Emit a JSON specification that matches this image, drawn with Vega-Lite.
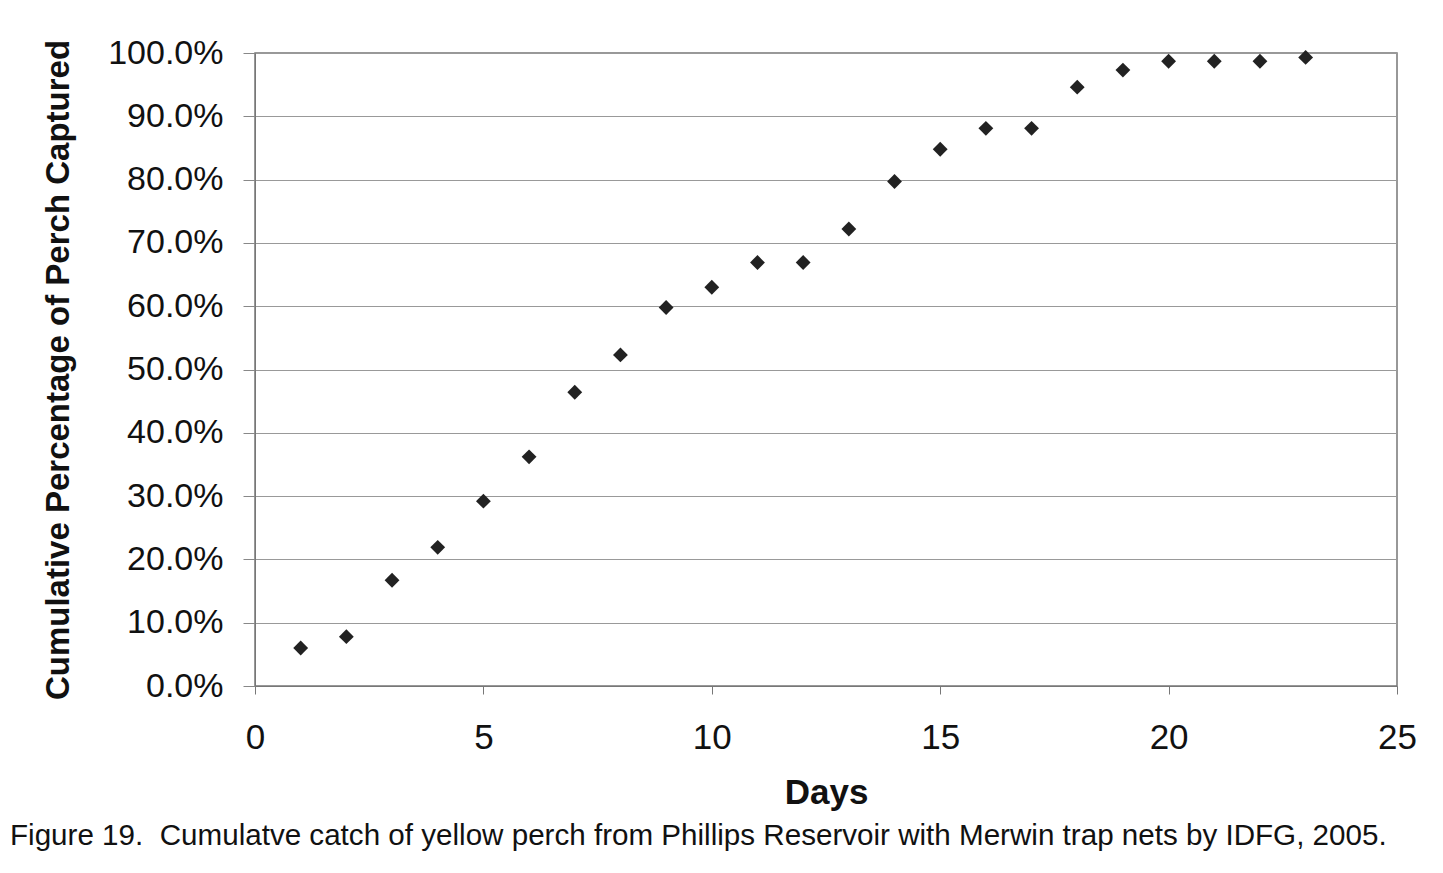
{
  "$schema": "https://vega.github.io/schema/vega-lite/v6.json",
  "width": 1142,
  "height": 633,
  "autosize": {"type": "none"},
  "padding": {"left": 255, "top": 53, "right": 46, "bottom": 187},
  "background": "white",
  "title": {
    "text": "Figure 19.\u00a0 Cumulatve catch of yellow perch from Phillips Reservoir with Merwin trap nets by IDFG, 2005.",
    "orient": "bottom",
    "anchor": "start",
    "frame": "group",
    "dx": -245,
    "offset": 12,
    "font": "Liberation Sans",
    "fontSize": 29.6,
    "fontWeight": "normal",
    "color": "#111"
  },
  "data": {
    "values": [
      {"day": 1, "pct": 0.060},
      {"day": 2, "pct": 0.078},
      {"day": 3, "pct": 0.167},
      {"day": 4, "pct": 0.219},
      {"day": 5, "pct": 0.292},
      {"day": 6, "pct": 0.362},
      {"day": 7, "pct": 0.464},
      {"day": 8, "pct": 0.523},
      {"day": 9, "pct": 0.598},
      {"day": 10, "pct": 0.630},
      {"day": 11, "pct": 0.669},
      {"day": 12, "pct": 0.669},
      {"day": 13, "pct": 0.722},
      {"day": 14, "pct": 0.797},
      {"day": 15, "pct": 0.848},
      {"day": 16, "pct": 0.881},
      {"day": 17, "pct": 0.881},
      {"day": 18, "pct": 0.946},
      {"day": 19, "pct": 0.973},
      {"day": 20, "pct": 0.987},
      {"day": 21, "pct": 0.987},
      {"day": 22, "pct": 0.987},
      {"day": 23, "pct": 0.993}
    ]
  },
  "mark": {"type": "point", "shape": "diamond", "filled": true, "color": "#222", "opacity": 1, "size": 220},
  "encoding": {
    "x": {
      "field": "day",
      "type": "quantitative",
      "title": "Days",
      "scale": {"domain": [0, 25], "nice": false, "zero": true},
      "axis": {
        "values": [0, 5, 10, 15, 20, 25],
        "grid": false,
        "labelFlush": false,
        "labelOverlap": false,
        "tickSize": 8,
        "tickColor": "#777",
        "domainColor": "#777",
        "labelPadding": 26,
        "labelFontSize": 35,
        "labelFont": "Liberation Sans",
        "labelColor": "#111",
        "titleFont": "Liberation Sans",
        "titleFontSize": 35,
        "titleFontWeight": "bold",
        "titleColor": "#111",
        "titlePadding": 20
      }
    },
    "y": {
      "field": "pct",
      "type": "quantitative",
      "title": "Cumulative Percentage of Perch Captured",
      "scale": {"domain": [0, 1], "nice": false},
      "axis": {
        "values": [0, 0.1, 0.2, 0.3, 0.4, 0.5, 0.6, 0.7, 0.8, 0.9, 1.0],
        "format": ".1%",
        "grid": true,
        "labelFlush": false,
        "labelOverlap": false,
        "gridColor": "#999",
        "gridWidth": 1,
        "tickSize": 12,
        "tickColor": "#888",
        "domainColor": "#777",
        "labelPadding": 20,
        "labelFontSize": 34,
        "labelFont": "Liberation Sans",
        "labelColor": "#111",
        "titleFont": "Liberation Sans",
        "titleFontSize": 33,
        "titleFontWeight": "bold",
        "titleColor": "#111",
        "titlePadding": 32
      }
    }
  },
  "config": {
    "view": {"stroke": "#777", "strokeWidth": 1.5}
  }
}
